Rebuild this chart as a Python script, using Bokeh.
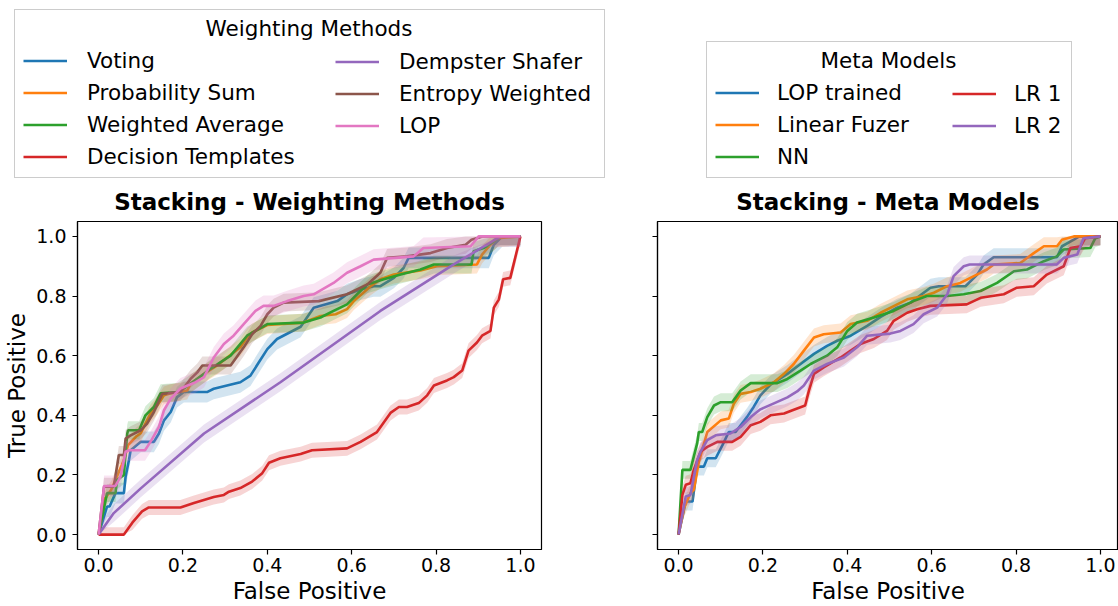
from bokeh.plotting import figure
from bokeh.layouts import row, column
from bokeh.models import (Legend, LegendItem, Label, FixedTicker, CustomJSTickFormatter, Range1d)
from bokeh.embed import file_html
from bokeh.resources import INLINE

FONT = "DejaVu Sans"
C_BLUE, C_ORANGE, C_GREEN, C_RED, C_PURPLE, C_BROWN, C_PINK = (
    "#1f77b4", "#ff7f0e", "#2ca02c", "#d62728", "#9467bd", "#8c564b", "#e377c2")

# ---------------- Weighting methods ----------------
voting_x = [0, 0.02, 0.026, 0.04, 0.06, 0.064, 0.072, 0.076, 0.1, 0.131, 0.143, 0.155, 0.171, 0.186, 0.202,
            0.257, 0.273, 0.336, 0.36, 0.38, 0.4, 0.423, 0.479, 0.494, 0.51, 0.566, 0.589, 0.621, 0.652, 0.668,
            0.7, 0.723, 0.735, 0.925, 0.937, 0.957, 1.0]
voting_y = [0, 0.094, 0.094, 0.139, 0.139, 0.194, 0.25, 0.283, 0.311, 0.311, 0.339, 0.383, 0.411, 0.461, 0.478,
            0.478, 0.489, 0.511, 0.533, 0.578, 0.622, 0.656, 0.697, 0.728, 0.761, 0.783, 0.806, 0.822, 0.833, 0.833,
            0.861, 0.894, 0.928, 0.928, 0.972, 1.0, 1.0]

probsum_x = [0, 0.015, 0.03, 0.045, 0.06, 0.07, 0.09, 0.1, 0.111, 0.123, 0.139, 0.155, 0.171, 0.21, 0.218, 0.25,
             0.281, 0.305, 0.336, 0.352, 0.364, 0.4, 0.486, 0.526, 0.562, 0.589, 0.605, 0.645, 0.668, 0.7, 0.763,
             0.802, 0.897, 0.909, 0.929, 0.945, 1.0]
probsum_y = [0, 0.12, 0.15, 0.2, 0.25, 0.3, 0.33, 0.34, 0.372, 0.406, 0.433, 0.467, 0.474, 0.483, 0.506, 0.539,
             0.567, 0.594, 0.628, 0.661, 0.678, 0.703, 0.711, 0.733, 0.739, 0.756, 0.783, 0.833, 0.856, 0.872, 0.886,
             0.9, 0.906, 0.939, 0.972, 0.994, 1.0]

wavg_x = [0, 0.02, 0.04, 0.044, 0.06, 0.068, 0.07, 0.096, 0.111, 0.131, 0.147, 0.186, 0.206, 0.25, 0.265, 0.313,
          0.352, 0.4, 0.486, 0.526, 0.557, 0.589, 0.613, 0.637, 0.676, 0.716, 0.763, 0.795, 0.884, 0.889, 0.913,
          0.937, 0.949, 1.0]
wavg_y = [0, 0.139, 0.139, 0.183, 0.2, 0.339, 0.35, 0.35, 0.4, 0.428, 0.474, 0.478, 0.494, 0.539, 0.556, 0.6,
          0.667, 0.706, 0.711, 0.728, 0.75, 0.772, 0.806, 0.839, 0.856, 0.872, 0.889, 0.906, 0.906, 0.95, 0.961,
          0.983, 1.0, 1.0]

dtempl_x = [0, 0.06, 0.08, 0.103, 0.119, 0.194, 0.226, 0.273, 0.297, 0.309, 0.336, 0.364, 0.388, 0.404, 0.431,
            0.479, 0.506, 0.589, 0.621, 0.66, 0.692, 0.712, 0.731, 0.759, 0.779, 0.795, 0.826, 0.842, 0.862, 0.877,
            0.897, 0.909, 0.929, 0.937, 0.949, 0.959, 0.976, 1.0]
dtempl_y = [0, 0, 0.04, 0.078, 0.091, 0.091, 0.106, 0.126, 0.133, 0.144, 0.156, 0.178, 0.206, 0.241, 0.256,
            0.27, 0.283, 0.289, 0.311, 0.344, 0.408, 0.428, 0.428, 0.441, 0.467, 0.5, 0.517, 0.528, 0.55, 0.617,
            0.644, 0.667, 0.683, 0.761, 0.789, 0.856, 0.861, 1.0]

dshafer_x = [0, 0.036, 0.1, 0.25, 0.431, 0.668, 0.842, 0.953, 1.0]
dshafer_y = [0, 0.072, 0.155, 0.339, 0.511, 0.75, 0.906, 1.0, 1.0]

entropy_x = [0, 0.013, 0.036, 0.048, 0.06, 0.064, 0.076, 0.1, 0.115, 0.131, 0.151, 0.194, 0.218, 0.234, 0.246,
             0.313, 0.344, 0.364, 0.384, 0.4, 0.415, 0.439, 0.522, 0.589, 0.637, 0.668, 0.684, 0.731, 0.787, 0.826,
             0.87, 0.884, 0.91, 1.0]
entropy_y = [0, 0.161, 0.161, 0.267, 0.267, 0.322, 0.333, 0.35, 0.372, 0.411, 0.472, 0.478, 0.522, 0.544, 0.567,
             0.567, 0.628, 0.672, 0.7, 0.739, 0.761, 0.778, 0.783, 0.806, 0.839, 0.878, 0.928, 0.933, 0.944, 0.961,
             0.972, 0.989, 1.0, 1.0]

lop_x = [0, 0.013, 0.04, 0.052, 0.064, 0.072, 0.11, 0.123, 0.143, 0.155, 0.171, 0.194, 0.23, 0.25, 0.273, 0.297,
         0.32, 0.344, 0.372, 0.391, 0.415, 0.447, 0.486, 0.51, 0.557, 0.589, 0.621, 0.652, 0.747, 0.77, 0.882,
         0.901, 1.0]
lop_y = [0, 0.163, 0.163, 0.194, 0.278, 0.283, 0.283, 0.311, 0.361, 0.417, 0.456, 0.49, 0.511, 0.528, 0.594, 0.639,
         0.667, 0.706, 0.75, 0.767, 0.767, 0.783, 0.8, 0.806, 0.844, 0.878, 0.9, 0.922, 0.933, 0.961, 0.967,
         1.0, 1.0]

weight_names = ["Voting", "Probability Sum", "Weighted Average", "Decision Templates",
                "Dempster Shafer", "Entropy Weighted", "LOP"]
weight_band = [0.035, 0.03, 0.03, 0.025, 0.03, 0.03, 0.035]

# ---------------- Meta models ----------------
loptr_x = [0, 0.017, 0.033, 0.044, 0.06, 0.068, 0.088, 0.104, 0.119, 0.135, 0.162, 0.178, 0.194, 0.218, 0.258,
           0.289, 0.321, 0.352, 0.376, 0.408, 0.447, 0.479, 0.518, 0.55, 0.597, 0.617, 0.68, 0.708, 0.723, 0.747,
           0.897, 0.909, 0.937, 0.95, 1.0]
loptr_y = [0, 0.111, 0.111, 0.228, 0.228, 0.256, 0.256, 0.3, 0.344, 0.344, 0.394, 0.428, 0.467, 0.503, 0.539,
           0.572, 0.606, 0.633, 0.65, 0.667, 0.7, 0.73, 0.761, 0.778, 0.828, 0.833, 0.833, 0.872, 0.906, 0.93,
           0.93, 0.967, 0.989, 1.0, 1.0]

linfz_x = [0, 0.013, 0.028, 0.036, 0.048, 0.068, 0.1, 0.119, 0.131, 0.147, 0.171, 0.194, 0.226, 0.25, 0.273, 0.297,
           0.321, 0.344, 0.384, 0.408, 0.447, 0.479, 0.542, 0.581, 0.605, 0.637, 0.668, 0.7, 0.731, 0.747, 0.81,
           0.842, 0.866, 0.897, 0.909, 0.937, 1.0]
linfz_y = [0, 0.089, 0.139, 0.15, 0.244, 0.344, 0.383, 0.389, 0.439, 0.472, 0.478, 0.489, 0.511, 0.539, 0.572,
           0.617, 0.661, 0.672, 0.678, 0.706, 0.717, 0.744, 0.789, 0.8, 0.811, 0.833, 0.844, 0.867, 0.889, 0.906,
           0.911, 0.944, 0.967, 0.967, 0.989, 1.0, 1.0]

nn_x = [0, 0.009, 0.028, 0.044, 0.048, 0.056, 0.068, 0.084, 0.1, 0.127, 0.147, 0.171, 0.234, 0.258, 0.289, 0.313,
        0.352, 0.376, 0.4, 0.423, 0.463, 0.51, 0.557, 0.589, 0.637, 0.676, 0.716, 0.755, 0.795, 0.826, 0.866,
        0.897, 0.913, 0.976, 0.988, 1.0]
nn_y = [0, 0.217, 0.217, 0.306, 0.344, 0.344, 0.394, 0.433, 0.444, 0.444, 0.483, 0.508, 0.508, 0.522, 0.55, 0.572,
        0.6, 0.628, 0.683, 0.711, 0.728, 0.75, 0.783, 0.8, 0.8, 0.806, 0.817, 0.844, 0.883, 0.889, 0.917,
        0.933, 0.956, 0.961, 0.994, 1.0]

lr1_x = [0, 0.009, 0.017, 0.028, 0.036, 0.052, 0.068, 0.092, 0.127, 0.147, 0.171, 0.194, 0.218, 0.25, 0.27, 0.3,
         0.309, 0.321, 0.344, 0.384, 0.408, 0.431, 0.463, 0.494, 0.51, 0.542, 0.566, 0.597, 0.683, 0.716, 0.771,
         0.802, 0.842, 0.873, 0.913, 0.929, 0.953, 0.964, 1.0]
lr1_y = [0, 0.133, 0.167, 0.172, 0.217, 0.278, 0.294, 0.311, 0.311, 0.328, 0.367, 0.378, 0.4, 0.406, 0.417, 0.433,
         0.483, 0.539, 0.561, 0.594, 0.617, 0.639, 0.656, 0.683, 0.717, 0.744, 0.756, 0.767, 0.772, 0.794, 0.806,
         0.828, 0.833, 0.872, 0.9, 0.961, 0.967, 0.994, 1.0]

lr2_x = [0, 0.017, 0.028, 0.044, 0.052, 0.068, 0.088, 0.123, 0.147, 0.171, 0.194, 0.226, 0.258, 0.281, 0.297,
         0.321, 0.352, 0.392, 0.423, 0.447, 0.502, 0.526, 0.557, 0.581, 0.613, 0.637, 0.652, 0.676, 0.69, 0.897,
         0.913, 0.945, 0.96, 1.0]
lr2_y = [0, 0.128, 0.133, 0.25, 0.278, 0.317, 0.333, 0.339, 0.361, 0.394, 0.42, 0.44, 0.46, 0.48, 0.5,
         0.55, 0.572, 0.594, 0.628, 0.667, 0.674, 0.683, 0.706, 0.739, 0.761, 0.806, 0.867, 0.9, 0.906, 0.906,
         0.928, 0.939, 0.994, 1.0]

meta_names = ["LOP trained", "Linear Fuzer", "NN", "LR 1", "LR 2"]
meta_band = [0.03, 0.03, 0.03, 0.03, 0.03]

ticks = [0.0, 0.2, 0.4, 0.6, 0.8, 1.0]

W_TOTAL, H_TOTAL = 1118, 606
TOP_H = 179                      # strip holding the two legends
PLOT_H = H_TOTAL - TOP_H
FRAME_TOP, FRAME_BOTTOM = 220, 551

weight_xs = [voting_x, probsum_x, wavg_x, dtempl_x, dshafer_x, entropy_x, lop_x]
weight_ys = [voting_y, probsum_y, wavg_y, dtempl_y, dshafer_y, entropy_y, lop_y]
weight_colors = [C_BLUE, C_ORANGE, C_GREEN, C_RED, C_PURPLE, C_BROWN, C_PINK]
meta_xs = [loptr_x, linfz_x, nn_x, lr1_x, lr2_x]
meta_ys = [loptr_y, linfz_y, nn_y, lr1_y, lr2_y]
meta_colors = [C_BLUE, C_ORANGE, C_GREEN, C_RED, C_PURPLE]


def style(p, show_ylabels):
    p.title.text_font = FONT
    p.title.text_font_size = "23px"
    p.title.text_font_style = "bold"
    p.title.text_color = "black"
    p.title.align = "center"
    p.title.standoff = 14
    p.outline_line_color = "black"
    p.outline_line_width = 1.2
    p.outline_line_alpha = 1
    p.xgrid.visible = False
    p.ygrid.visible = False
    for ax in (p.xaxis[0], p.yaxis[0]):
        ax.ticker = FixedTicker(ticks=ticks)
        ax.minor_tick_line_color = None
        ax.major_tick_in = 0
        ax.major_tick_out = 5
        ax.major_tick_line_color = "black"
        ax.major_tick_line_width = 1.2
        ax.axis_line_color = "black"
        ax.axis_line_width = 1.2
        ax.major_label_text_font = FONT
        ax.major_label_text_font_size = "19px"
        ax.major_label_text_color = "black"
        ax.axis_label_text_font = FONT
        ax.axis_label_text_font_size = "23px"
        ax.axis_label_text_font_style = "normal"
        ax.axis_label_text_color = "black"
        ax.formatter = CustomJSTickFormatter(code="return tick.toFixed(1);")
    p.xaxis.axis_label = "False Positive"
    p.xaxis.major_label_standoff = 3
    p.xaxis.axis_label_standoff = 3
    p.yaxis.major_label_standoff = 6
    p.yaxis.axis_label_standoff = 3
    if show_ylabels:
        p.yaxis.axis_label = "True Positive"
    else:
        p.yaxis.formatter = CustomJSTickFormatter(code="return '';")


def draw(p, xs, ys, colors, bands):
    for x, y, c, w in zip(xs, ys, colors, bands):
        lo = [max(v - w, 0.0) for v in y]
        hi = [min(v + w, 1.0) for v in y]
        p.varea(x=x, y1=lo, y2=hi, fill_color=c, fill_alpha=0.2)
        p.line(x, y, line_color=c, line_width=2.6)


# ---- legend strip (its ranges keep the handle lines out of view; only the legends show) ----
top = figure(width=W_TOTAL, height=TOP_H, output_backend="svg", toolbar_location=None,
             x_axis_type=None, y_axis_type=None, x_range=Range1d(10, 11), y_range=Range1d(10, 11),
             min_border=0, min_border_left=0, min_border_right=0, min_border_top=0, min_border_bottom=0)
top.title.visible = False
top.outline_line_color = None
top.xgrid.visible = False
top.ygrid.visible = False

PAD, GW, GH, LH, SP, TSTAND = 8, 44, 25, 25, 7, 5


def legend_block(names, xs, ys, colors, split, box_x, box_top, box_w, col2_x, stand, title):
    common = dict(padding=PAD, spacing=SP, margin=0, glyph_width=GW, glyph_height=GH, label_height=LH,
                  label_standoff=stand, title=" ", title_text_font=FONT, title_text_font_size="21.5px",
                  title_standoff=TSTAND, label_text_font=FONT, label_text_font_size="21.5px",
                  label_text_color="black", background_fill_alpha=0)
    rends = [top.line(x, y, line_color=c, line_width=2.6) for x, y, c in zip(xs, ys, colors)]
    n1, n2 = split, len(names) - split
    h1 = PAD * 2 + 25 + TSTAND + n1 * LH + (n1 - 1) * SP
    h2 = PAD * 2 + 25 + TSTAND + n2 * LH + (n2 - 1) * SP
    legA = Legend(items=[LegendItem(label=names[i], renderers=[rends[i]]) for i in range(split)],
                  location=(box_x, TOP_H - (box_top + h1)),
                  label_width=box_w - 2 * PAD - GW - stand,
                  border_line_color="#cccccc", border_line_width=1, border_line_alpha=1, **common)
    legB = Legend(items=[LegendItem(label=names[i], renderers=[rends[i]]) for i in range(split, len(names))],
                  location=(col2_x - PAD, TOP_H - (box_top + h2)),
                  border_line_alpha=0, **common)
    top.add_layout(legA)
    top.add_layout(legB)
    top.add_layout(Label(x=box_x + box_w / 2, y=TOP_H - (box_top + 17), x_units="screen", y_units="screen",
                         text=title, text_align="center", text_baseline="middle", level="overlay",
                         text_font=FONT, text_font_size="21.5px", text_color="black"))


legend_block(weight_names, weight_xs, weight_ys, weight_colors, 4,
             box_x=14, box_top=11, box_w=589, col2_x=335, stand=20, title="Weighting Methods")
legend_block(meta_names, meta_xs, meta_ys, meta_colors, 3,
             box_x=706, box_top=43, box_w=364, col2_x=952, stand=18, title="Meta Models")

# ---- left figure ----
W1 = 600
p1 = figure(width=W1, height=PLOT_H, output_backend="svg", toolbar_location=None,
            title="Stacking - Weighting Methods",
            x_range=Range1d(-0.05, 1.05), y_range=Range1d(-0.05, 1.05),
            min_border_left=77, min_border_right=W1 - 541, min_border_top=FRAME_TOP - TOP_H,
            min_border_bottom=H_TOTAL - FRAME_BOTTOM)
style(p1, True)
draw(p1, weight_xs, weight_ys, weight_colors, weight_band)

# ---- right figure ----
W2 = W_TOTAL - W1
px_per_unit = (541 - 77) / 1.1
frame2_left = 657 - W1
frame2_w = W2 - frame2_left
p2 = figure(width=W2, height=PLOT_H, output_backend="svg", toolbar_location=None,
            title="Stacking - Meta Models",
            x_range=Range1d(-0.05, -0.05 + frame2_w / px_per_unit), y_range=Range1d(-0.05, 1.05),
            min_border_left=frame2_left, min_border_right=0, min_border_top=FRAME_TOP - TOP_H,
            min_border_bottom=H_TOTAL - FRAME_BOTTOM)
style(p2, False)
draw(p2, meta_xs, meta_ys, meta_colors, meta_band)

layout = column(top, row(p1, p2))
open("out.html", "w").write(file_html(layout, INLINE))
